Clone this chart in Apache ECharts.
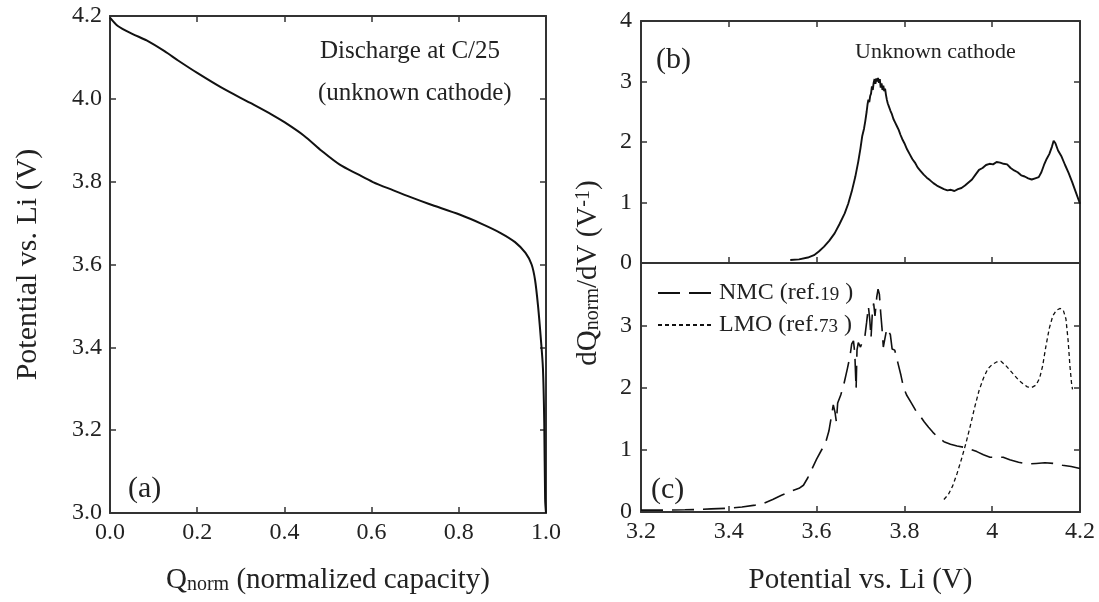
<!DOCTYPE html>
<html>
<head>
<meta charset="utf-8">
<script src="https://cdn.jsdelivr.net/npm/echarts@6/dist/echarts.min.js"></script>
<style>
  html, body { margin: 0; padding: 0; background: #fff; }
  #chart { width: 1099px; height: 602px; }
</style>
</head>
<body>
<div id="chart"></div>
<script>
// (a) Discharge at C/25: normalized capacity vs potential
const dischargeQ = [0.000, 0.018, 0.051, 0.084, 0.125, 0.157, 0.201, 0.256, 0.322, 0.371, 0.401, 0.445, 0.486, 0.527, 0.568, 0.603, 0.650, 0.691, 0.732, 0.803, 0.855, 0.896, 0.929, 0.953, 0.967, 0.975, 0.982, 0.988, 0.993, 0.996, 0.998, 1.000];
const dischargeV = [4.196, 4.176, 4.157, 4.141, 4.115, 4.092, 4.062, 4.027, 3.990, 3.962, 3.943, 3.911, 3.874, 3.841, 3.818, 3.799, 3.779, 3.762, 3.746, 3.720, 3.697, 3.676, 3.654, 3.628, 3.600, 3.562, 3.497, 3.423, 3.349, 3.218, 3.033, 3.000];

// (b) dQ/dV of the unknown cathode
const unknownV = [3.540, 3.560, 3.580, 3.594, 3.605, 3.617, 3.629, 3.641, 3.652, 3.664, 3.672, 3.680, 3.688, 3.695, 3.700, 3.704, 3.708, 3.711, 3.714, 3.716, 3.718, 3.720, 3.722, 3.724, 3.726, 3.728, 3.730, 3.732, 3.734, 3.736, 3.738, 3.740, 3.742, 3.744, 3.746, 3.748, 3.750, 3.752, 3.754, 3.756, 3.758, 3.760, 3.762, 3.765, 3.768, 3.771, 3.775, 3.779, 3.783, 3.787, 3.791, 3.795, 3.800, 3.806, 3.812, 3.818, 3.824, 3.830, 3.837, 3.844, 3.851, 3.858, 3.866, 3.874, 3.882, 3.890, 3.898, 3.906, 3.914, 3.922, 3.930, 3.938, 3.946, 3.954, 3.962, 3.970, 3.978, 3.986, 3.994, 4.002, 4.010, 4.018, 4.026, 4.034, 4.042, 4.050, 4.058, 4.066, 4.074, 4.082, 4.090, 4.098, 4.106, 4.112, 4.118, 4.124, 4.130, 4.136, 4.140, 4.144, 4.150, 4.158, 4.166, 4.174, 4.182, 4.190, 4.200];
const unknownDQ = [0.05, 0.06, 0.09, 0.13, 0.19, 0.27, 0.37, 0.49, 0.64, 0.82, 0.98, 1.18, 1.42, 1.68, 1.90, 2.10, 2.22, 2.35, 2.50, 2.62, 2.70, 2.66, 2.76, 2.80, 2.92, 2.86, 2.98, 3.04, 2.96, 3.05, 3.00, 3.06, 2.98, 3.04, 2.90, 2.97, 2.86, 2.93, 2.84, 2.88, 2.78, 2.70, 2.64, 2.58, 2.52, 2.47, 2.38, 2.32, 2.26, 2.20, 2.12, 2.05, 1.98, 1.88, 1.80, 1.72, 1.66, 1.58, 1.52, 1.46, 1.41, 1.37, 1.32, 1.28, 1.25, 1.22, 1.20, 1.21, 1.19, 1.22, 1.24, 1.28, 1.33, 1.38, 1.46, 1.54, 1.57, 1.62, 1.64, 1.63, 1.67, 1.66, 1.64, 1.63, 1.57, 1.53, 1.50, 1.45, 1.43, 1.40, 1.38, 1.40, 1.42, 1.50, 1.62, 1.72, 1.80, 1.92, 2.02, 1.98, 1.86, 1.76, 1.62, 1.49, 1.34, 1.18, 0.98];

// (c) Reference cathodes
const nmcV = [3.200, 3.250, 3.300, 3.330, 3.360, 3.400, 3.430, 3.460, 3.480, 3.500, 3.520, 3.540, 3.560, 3.570, 3.580, 3.590, 3.600, 3.610, 3.620, 3.628, 3.634, 3.638, 3.642, 3.645, 3.648, 3.655, 3.662, 3.670, 3.676, 3.680, 3.684, 3.687, 3.690, 3.692, 3.695, 3.700, 3.705, 3.710, 3.714, 3.718, 3.721, 3.724, 3.727, 3.730, 3.733, 3.737, 3.740, 3.743, 3.746, 3.749, 3.752, 3.756, 3.760, 3.764, 3.768, 3.772, 3.778, 3.785, 3.792, 3.798, 3.805, 3.815, 3.825, 3.835, 3.845, 3.855, 3.865, 3.875, 3.890, 3.905, 3.920, 3.935, 3.950, 3.965, 3.980, 3.995, 4.010, 4.025, 4.040, 4.060, 4.080, 4.100, 4.120, 4.140, 4.160, 4.180, 4.200];
const nmcDQ = [0.03, 0.03, 0.035, 0.04, 0.05, 0.06, 0.08, 0.11, 0.14, 0.20, 0.27, 0.33, 0.38, 0.43, 0.55, 0.70, 0.85, 0.98, 1.10, 1.30, 1.55, 1.72, 1.60, 1.45, 1.75, 1.88, 2.05, 2.30, 2.50, 2.70, 2.75, 2.55, 1.98, 2.60, 2.72, 2.65, 2.75, 2.82, 3.05, 3.30, 3.10, 2.80, 3.20, 3.35, 3.15, 3.45, 3.58, 3.50, 3.20, 2.95, 2.65, 2.80, 2.95, 2.98, 2.85, 2.62, 2.60, 2.40, 2.20, 2.00, 1.88, 1.76, 1.64, 1.55, 1.45, 1.36, 1.28, 1.21, 1.13, 1.09, 1.06, 1.04, 1.01, 0.97, 0.92, 0.88, 0.88, 0.88, 0.84, 0.80, 0.77, 0.78, 0.79, 0.78, 0.75, 0.73, 0.70];
const lmoV = [3.890, 3.900, 3.910, 3.920, 3.930, 3.940, 3.950, 3.960, 3.970, 3.980, 3.990, 4.000, 4.010, 4.020, 4.030, 4.040, 4.050, 4.060, 4.070, 4.080, 4.090, 4.100, 4.108, 4.115, 4.122, 4.130, 4.138, 4.146, 4.155, 4.162, 4.168, 4.173, 4.177, 4.181, 4.183];
const lmoDQ = [0.20, 0.28, 0.42, 0.62, 0.85, 1.10, 1.38, 1.68, 1.95, 2.15, 2.30, 2.37, 2.41, 2.42, 2.36, 2.28, 2.20, 2.12, 2.06, 2.01, 2.00, 2.04, 2.15, 2.35, 2.65, 2.95, 3.15, 3.24, 3.27, 3.24, 3.10, 2.75, 2.35, 2.05, 1.97];

const seriesNames = ['NMC (ref.19)', 'LMO (ref.73)'];

const zip = (xs, ys) => xs.map((x, i) => [x, ys[i]]);

const FONT = '"Liberation Serif", "DejaVu Serif", serif';
const INK = '#222';
const AXIS = '#333';
const TICK_FS = 24;
const TITLE_FS = 29;

function baseAxis(extra) {
  return Object.assign({
    axisLine: { show: true, onZero: false, lineStyle: { color: AXIS, width: 2 } },
    axisTick: { show: true, inside: true, length: 6, lineStyle: { color: AXIS, width: 1.5 } },
    splitLine: { show: false },
    axisLabel: { color: INK, fontFamily: FONT, fontSize: TICK_FS, margin: 8 }
  }, extra);
}
function mirror(extra) {
  return baseAxis(Object.assign({ axisLabel: { show: false } }, extra));
}

const option = {
  backgroundColor: '#fff',
  animation: false,
  grid: [
    { left: 110, top: 16, width: 436, height: 497 },
    { left: 641, top: 21, width: 439, height: 242 },
    { left: 641, top: 263, width: 439, height: 249 }
  ],
  xAxis: [
    baseAxis({
      gridIndex: 0, type: 'value', min: 0, max: 1, interval: 0.2,
      axisLabel: { color: INK, fontFamily: FONT, fontSize: TICK_FS, margin: 8, formatter: v => v.toFixed(1) },
      name: '{q|Q}{s|norm}{q| (normalized capacity)}',
      nameLocation: 'middle', nameGap: 53,
      nameTextStyle: {
        rich: {
          q: { fontFamily: FONT, fontSize: TITLE_FS, color: INK, verticalAlign: 'bottom' },
          s: { fontFamily: FONT, fontSize: 20, color: INK, verticalAlign: 'bottom' }
        }
      }
    }),
    mirror({ gridIndex: 0, type: 'value', min: 0, max: 1, interval: 0.2, position: 'top' }),
    mirror({ gridIndex: 1, type: 'value', min: 3.2, max: 4.2, interval: 0.2, position: 'bottom' }),
    mirror({ gridIndex: 1, type: 'value', min: 3.2, max: 4.2, interval: 0.2, position: 'top' }),
    baseAxis({
      gridIndex: 2, type: 'value', min: 3.2, max: 4.2, interval: 0.2, position: 'bottom',
      axisLabel: { color: INK, fontFamily: FONT, fontSize: TICK_FS, margin: 8,
        formatter: v => (Math.abs(v - 4) < 1e-9 ? '4' : v.toFixed(1)) },
      name: 'Potential vs. Li (V)', nameLocation: 'middle', nameGap: 54,
      nameTextStyle: { fontFamily: FONT, fontSize: TITLE_FS, color: INK }
    })
  ],
  yAxis: [
    baseAxis({
      gridIndex: 0, type: 'value', min: 3.0, max: 4.2, interval: 0.2,
      axisLabel: { color: INK, fontFamily: FONT, fontSize: TICK_FS, margin: 8, formatter: v => v.toFixed(1) },
      name: 'Potential vs. Li (V)', nameLocation: 'middle', nameGap: 67, nameRotate: 90,
      nameTextStyle: { fontFamily: FONT, fontSize: TITLE_FS + 1, color: INK }
    }),
    mirror({ gridIndex: 0, type: 'value', min: 3.0, max: 4.2, interval: 0.2, position: 'right' }),
    baseAxis({
      gridIndex: 1, type: 'value', min: 0, max: 4, interval: 1,
      axisLabel: { color: INK, fontFamily: FONT, fontSize: TICK_FS, margin: 9 }
    }),
    mirror({ gridIndex: 1, type: 'value', min: 0, max: 4, interval: 1, position: 'right' }),
    baseAxis({
      gridIndex: 2, type: 'value', min: 0, max: 4, interval: 1,
      axisLabel: { color: INK, fontFamily: FONT, fontSize: TICK_FS, margin: 9, showMaxLabel: false }
    }),
    mirror({ gridIndex: 2, type: 'value', min: 0, max: 4, interval: 1, position: 'right' })
  ],
  legend: {
    data: seriesNames,
    orient: 'vertical',
    left: 652, top: 276,
    itemWidth: 56, itemHeight: 14, itemGap: 8,
    selectedMode: false,
    itemStyle: { opacity: 0 },
    formatter: name => {
      const m = name.match(/^(.*ref\.)(\d+)\)$/);
      return '{a|' + m[1] + '}{n|' + m[2] + '}{a| )}';
    },
    textStyle: {
      color: INK,
      rich: {
        a: { fontFamily: FONT, fontSize: 24, color: INK },
        n: { fontFamily: FONT, fontSize: 19, color: INK, verticalAlign: 'bottom' }
      }
    }
  },
  graphic: [
    { type: 'text', left: 320, top: 39,
      style: { text: 'Discharge at C/25', font: '25px ' + FONT, fill: INK } },
    { type: 'text', left: 318, top: 81,
      style: { text: '(unknown cathode)', font: '25px ' + FONT, fill: INK } },
    { type: 'text', left: 128, top: 474,
      style: { text: '(a)', font: '30px ' + FONT, fill: INK } },
    { type: 'text', left: 656, top: 45,
      style: { text: '(b)', font: '30px ' + FONT, fill: INK } },
    { type: 'text', left: 855, top: 41,
      style: { text: 'Unknown cathode', font: '22px ' + FONT, fill: INK } },
    { type: 'text', left: 651, top: 475,
      style: { text: '(c)', font: '30px ' + FONT, fill: INK } },
    { type: 'text', x: 588, y: 273, rotation: Math.PI / 2,
      style: {
        text: '{m|dQ}{s|norm}{m|/dV (V}{p|-1}{m|)}',
        rich: {
          m: { fontFamily: FONT, fontSize: 29, fill: INK },
          s: { fontFamily: FONT, fontSize: 20, fill: INK, verticalAlign: 'bottom' },
          p: { fontFamily: FONT, fontSize: 20, fill: INK, verticalAlign: 'top' }
        },
        align: 'center',
        verticalAlign: 'middle'
      } }
  ],
  series: [
    {
      type: 'line', xAxisIndex: 0, yAxisIndex: 0, data: zip(dischargeQ, dischargeV),
      symbol: 'none', smooth: 0.3, lineStyle: { color: '#111', width: 2 }, z: 3
    },
    {
      type: 'line', xAxisIndex: 2, yAxisIndex: 2, data: zip(unknownV, unknownDQ),
      symbol: 'none', lineStyle: { color: '#111', width: 1.9 }, z: 3
    },
    {
      name: seriesNames[0], type: 'line', xAxisIndex: 4, yAxisIndex: 4, data: zip(nmcV, nmcDQ),
      symbol: 'none', lineStyle: { color: '#111', width: 1.6, type: [22, 9] }, z: 3
    },
    {
      name: seriesNames[1], type: 'line', xAxisIndex: 4, yAxisIndex: 4, data: zip(lmoV, lmoDQ),
      symbol: 'none', lineStyle: { color: '#111', width: 1.3, type: [4, 3] }, z: 3
    }
  ]
};

const chart = echarts.init(document.getElementById('chart'), null, { renderer: 'canvas' });
chart.setOption(option);
</script>
</body>
</html>
